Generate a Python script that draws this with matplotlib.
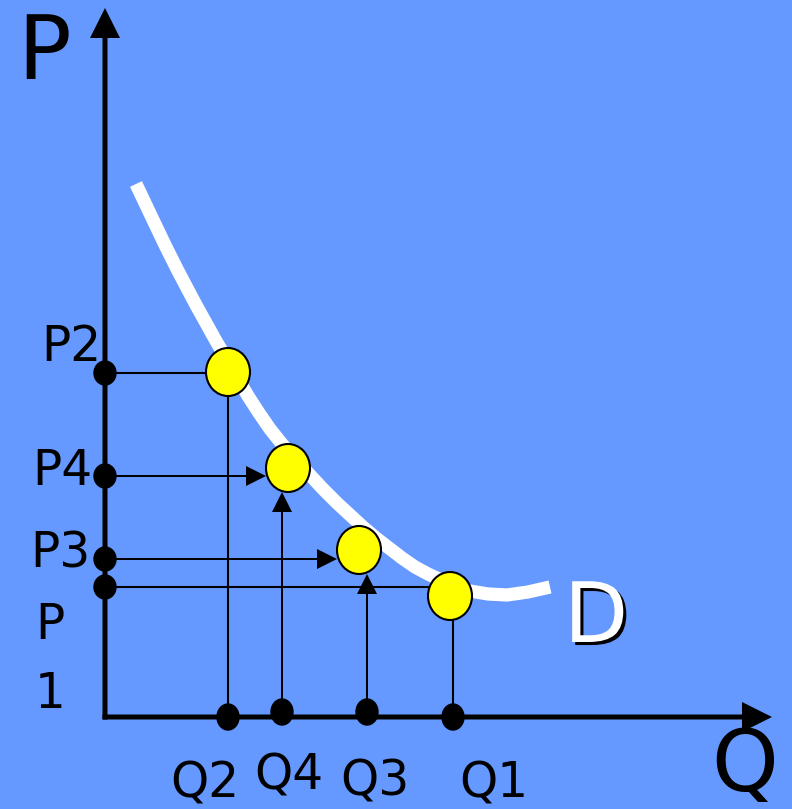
import matplotlib
matplotlib.use("Agg")
import matplotlib.pyplot as plt
import matplotlib.patheffects as pe
from matplotlib.patches import Ellipse

# demand curve D, in (quantity, price) units with origin at the axes corner
curve_q = [31, 40, 50, 60, 72, 82, 91, 101, 111, 121, 132, 143, 154, 165, 177, 190, 204,
           218, 232, 245, 258, 271, 284, 297, 310, 323, 336, 350, 365, 383, 402, 423, 445]
curve_p = [533, 514, 493, 472, 448, 429, 412, 394, 376, 359, 340, 321, 304, 288, 273, 258, 243,
           228, 214, 202, 190, 179, 169, 159, 150, 143, 137, 131, 126, 123, 122, 125, 130]

# the four points on the curve (order: 2, 4, 3, 1)
point_q = [123, 183, 254, 345]
point_p = [345, 249, 167, 121]

# price / quantity levels marked on the axes
price_levels = [344, 241, 158, 130]
quantity_levels = [123, 177, 262, 348]
price_labels = ["P2", "P4", "P3", "P\n1"]
quantity_labels = ["Q2", "Q4", "Q3", "Q1"]

BG = "#6699FF"
CW, CH = 44, 48  # yellow circle size
DW, DH = 22, 24  # black dot size

fig = plt.figure(figsize=(7.92, 8.09), dpi=100)
fig.patch.set_facecolor(BG)
ax = fig.add_axes([0, 0, 1, 1])
ax.set_facecolor(BG)
ax.set_xlim(-105, 687)
ax.set_ylim(-92, 717)
ax.axis("off")

# axes with arrow heads
ax.arrow(0, -2.5, 0, 711.5, width=5, head_width=30, head_length=30,
         length_includes_head=True, color="black", lw=0, zorder=3)
ax.arrow(-2.5, 0, 669.5, 0, width=5, head_width=30, head_length=30,
         length_includes_head=True, color="black", lw=0, zorder=3)

# demand curve
ax.plot(curve_q, curve_p, color="white", lw=9.5, solid_capstyle="butt",
        solid_joinstyle="round", zorder=2)

lw = 1.5
# P2 / Q2: plain lines
ax.plot([0, point_q[0]], [price_levels[0], price_levels[0]], color="black", lw=lw, zorder=3)
ax.plot([quantity_levels[0], quantity_levels[0]], [0, point_p[0]], color="black", lw=lw, zorder=3)
# P1 / Q1: plain lines
ax.plot([0, point_q[3]], [price_levels[3], price_levels[3]], color="black", lw=lw, zorder=3)
ax.plot([quantity_levels[3], quantity_levels[3]], [0, point_p[3]], color="black", lw=lw, zorder=3)

# P4, P3: arrows from price axis to the circles
for i in (1, 2):
    tip = point_q[i] - CW / 2
    ax.arrow(0, price_levels[i], tip, 0, width=2, head_width=20, head_length=20,
             length_includes_head=True, color="black", lw=0, zorder=3)
# Q4, Q3: arrows from quantity axis up to the circles
for i in (1, 2):
    tip = point_p[i] - CH / 2
    ax.arrow(quantity_levels[i], 5, 0, tip - 5, width=2, head_width=20, head_length=20,
             length_includes_head=True, color="black", lw=0, zorder=3)

# dots on the axes
for p in price_levels:
    ax.add_patch(Ellipse((0, p), DW, DH, color="black", zorder=4))
dot_offset = [0, 5, 5, 0]
for q, off in zip(quantity_levels, dot_offset):
    ax.add_patch(Ellipse((q, off), DW, DH + 2, color="black", zorder=4))

# yellow points
for q, p in zip(point_q, point_p):
    ax.add_patch(Ellipse((q, p), CW, CH, facecolor="#FFFF00", edgecolor="black",
                         lw=1.5, zorder=5))

# labels
font = "DejaVu Sans"
ax.text(-88, 638, "P", fontsize=64, family=font, ha="left", va="baseline")
ax.text(606, -74, "Q", fontsize=61, family=font, ha="left", va="baseline")
ax.text(459, 75, "D", fontsize=60, family=font, color="white", ha="left", va="baseline",
        zorder=7, path_effects=[pe.withSimplePatchShadow(offset=(2.2, -2.2),
                                                         shadow_rgbFace="black", alpha=1)])

price_pos = [(-34, 356), (-43, 232), (-45, 150), (-55, 9)]
for lab, (x, y) in zip(price_labels, price_pos):
    ax.text(x, y, lab, fontsize=35, family=font, ha="center", va="baseline",
            linespacing=1.55, zorder=6)
quant_pos = [(100, -80), (184, -73), (270, -78), (389, -80)]
for lab, (x, y) in zip(quantity_labels, quant_pos):
    ax.text(x, y, lab, fontsize=35, family=font, ha="center", va="baseline", zorder=6)

fig.savefig("out.png", dpi=100, facecolor=BG)
